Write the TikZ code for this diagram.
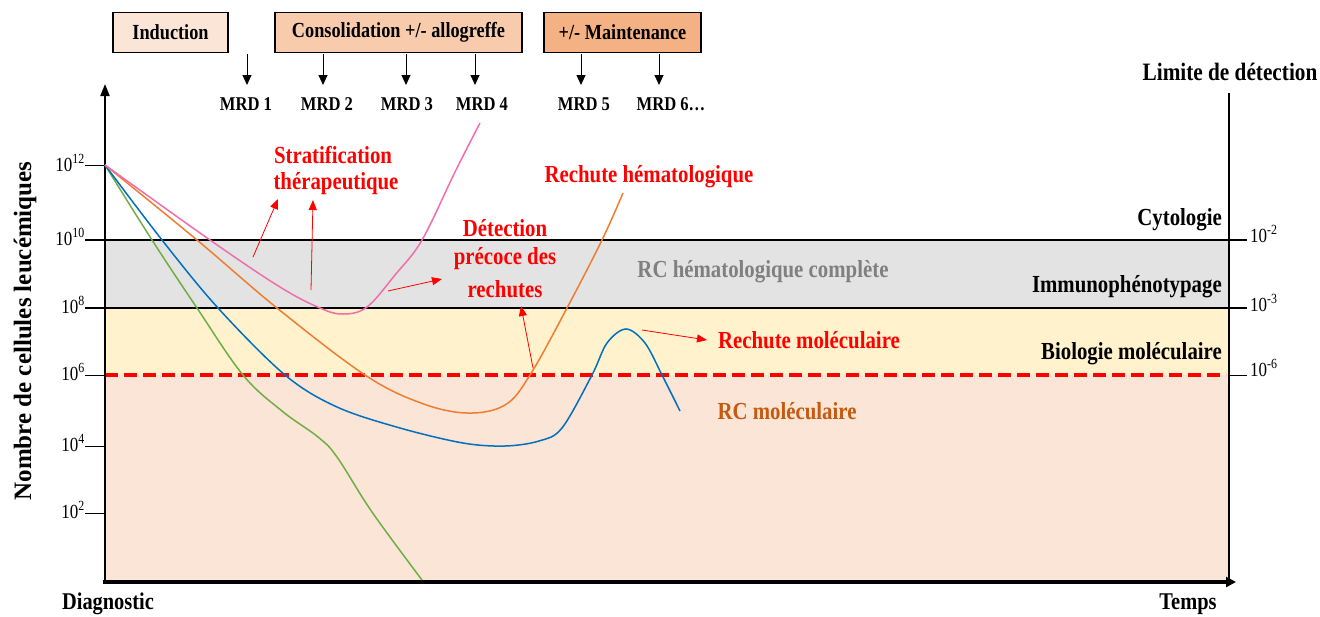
\documentclass[tikz,border=0pt]{standalone}
\usepackage{fontspec}
\setmainfont{Liberation Serif}[FakeStretch=0.85]
\newfontfamily\widefont{Liberation Serif}
\usetikzlibrary{arrows.meta}
\definecolor{bandgray}{RGB}{227,227,227}
\definecolor{bandyellow}{RGB}{255,242,204}
\definecolor{bandpeach}{RGB}{251,229,214}
\definecolor{boxA}{RGB}{251,229,214}
\definecolor{boxB}{RGB}{248,203,173}
\definecolor{boxC}{RGB}{244,177,131}
\definecolor{cpink}{RGB}{240,110,170}
\definecolor{corange}{RGB}{237,125,49}
\definecolor{cblue}{RGB}{0,112,192}
\definecolor{cgreen}{RGB}{112,173,71}
\definecolor{txtgray}{RGB}{128,128,128}
\definecolor{txtorange}{RGB}{197,90,17}
\newcommand{\fsz}[1]{\fontsize{#1}{#1}\selectfont}
\begin{document}
\begin{tikzpicture}[x=1pt,y=-1pt,
  phase/.style={draw=black, line width=1.5pt, minimum height=40pt, inner sep=0pt, font=\fsz{21.5}\bfseries},
  mrd/.style={font=\fsz{19.5}\bfseries, inner sep=0pt},
  mrdarrow/.style={-{Triangle[length=10pt,width=9pt]}, line width=1pt},
  redarrow/.style={-{Triangle[length=10pt,width=8pt]}, red, line width=0.8pt},
  redlbl/.style={font=\fsz{24.5}\bfseries, text=red, inner sep=0pt},
  bandlbl/.style={font=\fsz{24.5}\bfseries, inner sep=0pt, anchor=east},
  lnum/.style={font=\fsz{20}, inner sep=0pt, anchor=base east},
  rnum/.style={font=\fsz{20}, inner sep=0pt, anchor=base west},
  level/.style={line width=1.5pt},
  curve/.style={line width=1.5pt}
]
\useasboundingbox (0,0) rectangle (1320,616);
% bands
\fill[bandgray] (105,240) rectangle (1229,308);
\fill[bandyellow] (105,308) rectangle (1229,375);
\fill[bandpeach] (105,375) rectangle (1229,582);
% level lines
\draw[level] (85,240) -- (1247,240);
\draw[level] (85,308) -- (1247,308);
\draw[red, line width=4pt, dash pattern=on 13pt off 6pt] (105,375) -- (1226,375);
\draw[line width=1pt] (1229,375) -- (1247,375);
% left ticks
\foreach \yy in {165,375,446,513} \draw[line width=1pt] (85,\yy) -- (105,\yy);
% right vertical line
\draw[line width=1.5pt] (1229,93) -- (1229,582);
% axes
\coordinate (origin) at (105,582);
\coordinate (ytop) at (105,84);
\coordinate (xend) at (1236,582);
\draw[line width=2pt, -{Triangle[length=12pt,width=9pt]}] (105,583) -- (ytop);
\draw[line width=3.5pt, -{Triangle[length=10pt,width=10pt]}] (103,582) -- (xend);

% left numbers
\node[lnum] (n12) at (85,171) {10\textsuperscript{12}};
\node[lnum] (n10) at (85,245) {10\textsuperscript{10}};
\node[lnum] (n8) at (85,313) {10\textsuperscript{8}};
\node[lnum] (n6) at (85,380) {10\textsuperscript{6}};
\node[lnum] (n4) at (85,451) {10\textsuperscript{4}};
\node[lnum] (n2) at (85,518) {10\textsuperscript{2}};
% right numbers
\node[rnum] (r2) at (1250,242) {10\textsuperscript{-2}};
\node[rnum] (r3) at (1250,311) {10\textsuperscript{-3}};
\node[rnum] (r6) at (1250,376) {10\textsuperscript{-6}};

% curves
\draw[curve, cgreen] plot[smooth, tension=0.6] coordinates {(105,165) (152,240) (197,308) (243,375) (282,411) (318,437) (337,457) (372,512) (422,580)};
\draw[curve, cblue] plot[smooth, tension=0.55] coordinates {(105,165) (162,240) (218,308) (285,375) (337,407) (400,428) (463,443) (505,446) (539,441) (562,428) (592,375) (607,343) (626,329) (645,343) (662,375) (680,411)};
\draw[curve, corange] plot[smooth, tension=0.6] coordinates {(105,165) (197,240) (277,308) (365,375) (421,403) (467,413) (505,405) (530,375) (567,308) (602,240) (623,193)};
\draw[curve, cpink] plot[smooth, tension=0.6] coordinates {(105,165) (210,240) (280,287) (320,308) (343,314) (367,307) (395,275) (422,240) (455,172) (480,123)};

% phase boxes
\node[phase, fill=boxA, minimum width=115pt] (ind) at (170.5,32.5) {Induction};
\node[phase, fill=boxB, minimum width=247pt] (cons) at (398.5,32.5) {Consolidation +/- allogreffe};
\node[phase, fill=boxC, minimum width=157pt] (maint) at (622.5,32.5) {+/- Maintenance};

% MRD labels
\node[mrd] (m1) at (246,104) {MRD 1};
\node[mrd] (m2) at (327,104) {MRD 2};
\node[mrd] (m3) at (407,104) {MRD 3};
\node[mrd] (m4) at (482,104) {MRD 4};
\node[mrd] (m5) at (584,104) {MRD 5};
\node[mrd] (m6) at (671,104) {MRD 6…};
\foreach \xx/\i in {247/1,323/2,406/3,475/4,581/5,659/6}{
  \coordinate (t\i) at (\xx,54);
  \coordinate (h\i) at (\xx,85);
  \draw[mrdarrow] (t\i) -- (h\i);
}

% headings
\node[font=\fsz{25}\bfseries, inner sep=0pt] (lim) at (1230,72) {Limite de détection};
\node[font=\fsz{24}\bfseries, inner sep=0pt] (diag) at (108,604) {Diagnostic};
\node[font=\fsz{24}\bfseries, inner sep=0pt] (temps) at (1188,604) {Temps};
\node[font=\widefont\fsz{25}\bfseries, inner sep=0pt, rotate=90] (ylab) at (25,331) {Nombre de cellules leucémiques};

% band labels
\node[bandlbl] (cyto) at (1222,220) {Cytologie};
\node[bandlbl] (immuno) at (1222,287) {Immunophénotypage};
\node[bandlbl] (biomol) at (1222,354) {Biologie moléculaire};
\node[font=\fsz{24.5}\bfseries, text=txtgray, inner sep=0pt] (rch) at (763,272) {RC hématologique complète};
\node[font=\fsz{24.5}\bfseries, text=txtorange, inner sep=0pt] (rcm) at (787,411) {RC moléculaire};

% red labels
\node[redlbl] (strat1) at (333,155) {Stratification};
\node[redlbl] (strat2) at (336,184) {thérapeutique};
\node[redlbl] (rheme) at (649,177) {Rechute hématologique};
\node[redlbl] (det1) at (505,228) {Détection};
\node[redlbl] (det2) at (505,259) {précoce des};
\node[redlbl] (det3) at (505,289) {rechutes};
\node[redlbl] (rmol) at (809,340) {Rechute moléculaire};

% red annotation arrows
\coordinate (s1a) at (253,257); \coordinate (s1b) at (278,199);
\coordinate (s2a) at (311,290); \coordinate (s2b) at (313,200);
\coordinate (d1a) at (388,291); \coordinate (d1b) at (442,279);
\coordinate (d2a) at (533,368); \coordinate (d2b) at (521,306);
\coordinate (r1a) at (642,330); \coordinate (r1b) at (707,340);
\draw[redarrow] (s1a) -- (s1b);
\draw[redarrow] (s2a) -- (s2b);
\draw[redarrow] (d1a) -- (d1b);
\draw[redarrow] (d2a) -- (d2b);
\draw[redarrow] (r1a) -- (r1b);
\end{tikzpicture}
\end{document}
